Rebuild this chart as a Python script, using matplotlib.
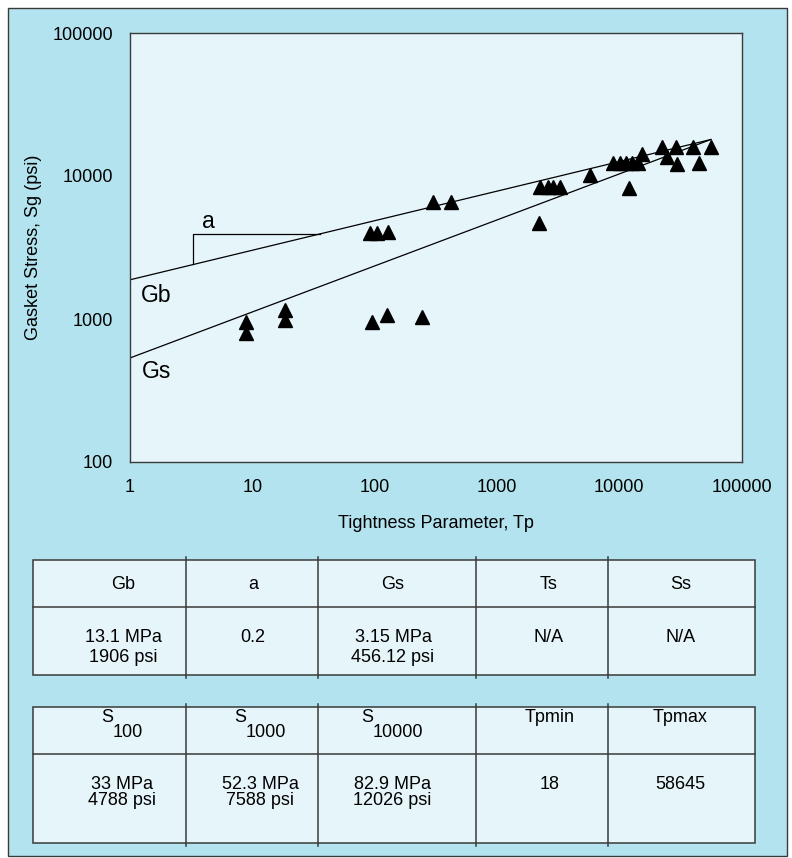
import numpy as np
import matplotlib
matplotlib.use('Agg')
import matplotlib.pyplot as plt
from matplotlib.patches import Rectangle
from matplotlib.lines import Line2D

plt.rcParams['font.family'] = ['Liberation Sans', 'DejaVu Sans']

# measured points (Tp, Sg in psi)
tp_pts = [8.8, 8.8, 18.5, 18.5, 95, 127, 245,
          92, 105, 129, 300, 420,
          2220, 2250, 2630, 2890, 3280, 5770, 12100,
          8900, 10160, 11370, 12730, 14260, 15280,
          22270, 29130, 24450, 29800, 39870, 44360, 56000]
sg_pts = [955, 792, 1153, 982, 955, 1064, 1035,
          4017, 4017, 4050, 6600, 6600,
          4660, 8360, 8360, 8360, 8360, 10130, 8190,
          12240, 12240, 12240, 12240, 12240, 14230,
          16000, 16000, 13490, 12100, 15850, 12240, 15850]

# fitted lines
gb_line_tp = [1, 56000]
gb_line_sg = [1880, 18000]
gs_line_tp = [1, 56000]
gs_line_sg = [534, 18000]

# slope bracket "a"
slope_tp = [35.8, 3.29, 3.29]
slope_sg = [3900, 3900, 2407]

x_ticks = [1, 10, 100, 1000, 10000, 100000]
y_ticks = [100, 1000, 10000, 100000]

# tables
headers1 = ['Gb', 'a', 'Gs', 'Ts', 'Ss']
values1 = [['13.1 MPa', '1906 psi'], ['0.2'], ['3.15 MPa', '456.12 psi'], ['N/A'], ['N/A']]
headers2 = [('S', '100'), ('S', '1000'), ('S', '10000'), ('Tpmin', ''), ('Tpmax', '')]
values2 = [['33 MPa', '4788 psi'], ['52.3 MPa', '7588 psi'], ['82.9 MPa', '12026 psi'], ['18'], ['58645']]

PANEL = '#b3e3ee'
LIGHT = '#e6f5fa'
EDGE = '#3a3a3a'
FS = 13

W, H = 792, 858
fig = plt.figure(figsize=(7.92, 8.58), dpi=100)
fig.patch.set_facecolor('white')

# background layer in pixel coords
bg = fig.add_axes([0, 0, 1, 1])
bg.set_xlim(0, W)
bg.set_ylim(H, 0)
bg.axis('off')
bg.add_patch(Rectangle((8, 8), 779, 848, facecolor=PANEL, edgecolor=EDGE, lw=1))

# main plot
ax = fig.add_axes([130 / W, 1 - 462 / H, (741.7 - 130) / W, (462 - 33) / H])
ax.set_facecolor(LIGHT)
ax.set_xscale('log')
ax.set_yscale('log')
ax.set_xlim(1, 100000)
ax.set_ylim(100, 100000)

ax.plot(gb_line_tp, gb_line_sg, color='black', lw=0.9)
ax.plot(gs_line_tp, gs_line_sg, color='black', lw=0.9)
ax.plot(slope_tp, slope_sg, color='black', lw=0.9)
ax.plot(tp_pts, sg_pts, linestyle='none', marker='^', ms=9.5, color='black')

ax.text(4.37, 4790, 'a', fontsize=16.5, ha='center', va='center')
ax.text(1.65, 1469, 'Gb', fontsize=16.5, ha='center', va='center')
ax.text(1.65, 427, 'Gs', fontsize=16.5, ha='center', va='center')

ax.set_xticks(x_ticks)
ax.set_xticklabels([str(t) for t in x_ticks])
ax.set_yticks(y_ticks)
ax.set_yticklabels([str(t) for t in y_ticks])
ax.minorticks_off()
ax.tick_params(length=0, labelsize=FS)
ax.tick_params(axis='x', pad=12)
ax.tick_params(axis='y', pad=12)
for s in ax.spines.values():
    s.set_color(EDGE)
    s.set_linewidth(1.0)

ax.set_xlabel('Tightness Parameter, Tp', fontsize=FS, labelpad=14)
ax.set_ylabel('Gasket Stress, Sg (psi)', fontsize=FS, labelpad=8)

# tables
col_x = [33.3, 186, 318, 476, 608, 755]
em = FS * 100 / 72.0


def draw_table(top, mid, bottom):
    bg.add_patch(Rectangle((col_x[0], top), col_x[-1] - col_x[0], bottom - top,
                           facecolor=LIGHT, edgecolor=EDGE, lw=1.1, zorder=2))
    bg.add_line(Line2D([col_x[0], col_x[-1]], [mid, mid], color=EDGE, lw=1.1, zorder=3))
    for x in col_x[1:-1]:
        bg.add_line(Line2D([x, x], [top - 3, bottom + 3], color=EDGE, lw=1.1, zorder=3))


draw_table(560, 607, 675)
draw_table(707, 754, 843)

cx1 = [123, 253, 393, 549, 681]
for i, h in enumerate(headers1):
    bg.text(cx1[i], 589, h, fontsize=FS, ha='center', va='baseline', zorder=4)
    for j, v in enumerate(values1[i]):
        bg.text(cx1[i], 642 + 20 * j, v, fontsize=FS, ha='center', va='baseline', zorder=4)

cx2 = [122, 260, 392, 550, 680]
for i, (main, sub) in enumerate(headers2):
    if sub:
        wid = (0.667 + 0.556 * len(sub)) * em
        left = cx2[i] - wid / 2
        bg.text(left, 722, main, fontsize=FS, ha='left', va='baseline', zorder=4)
        bg.text(left + 0.667 * em, 737, sub, fontsize=FS, ha='left', va='baseline', zorder=4)
    else:
        bg.text(cx2[i], 722, main, fontsize=FS, ha='center', va='baseline', zorder=4)
    for j, v in enumerate(values2[i]):
        bg.text(cx2[i], 789 + 16 * j, v, fontsize=FS, ha='center', va='baseline', zorder=4)

fig.savefig('out.png', dpi=100, facecolor=fig.get_facecolor())
